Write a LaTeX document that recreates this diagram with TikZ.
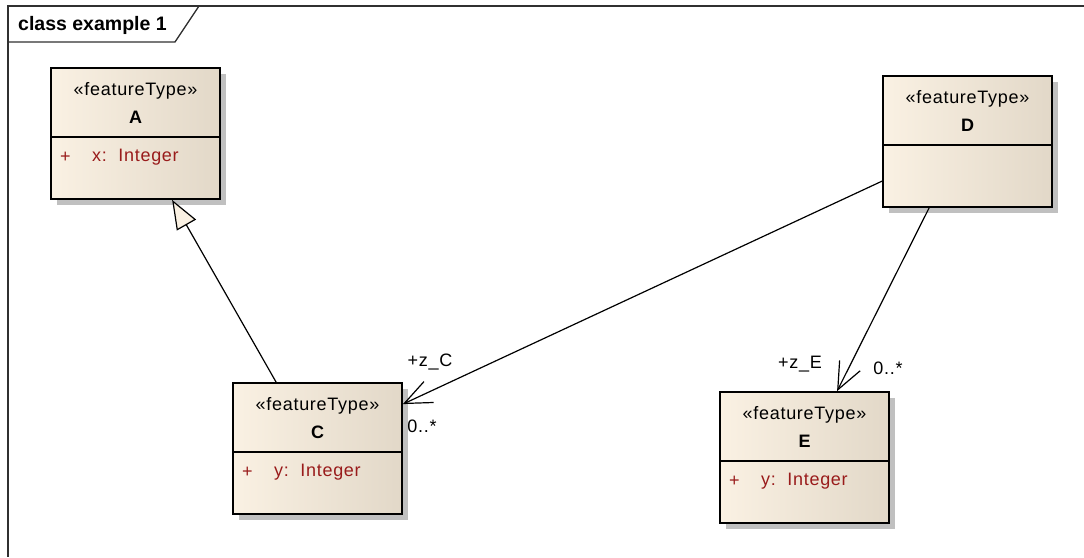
\documentclass[tikz,border=0pt]{standalone}
\usepackage{fontspec}
\setmainfont{Liberation Sans}[LetterSpace=4]
\newfontfamily\framefont{Liberation Sans}
\usetikzlibrary{arrows.meta,shadows}

\definecolor{eaCream}{HTML}{FAF1E3}
\definecolor{eaBeige}{HTML}{E2D8C8}
\definecolor{eaShadow}{HTML}{C0C0C0}
\definecolor{eaAttr}{HTML}{991B1B}
\definecolor{eaFrame}{HTML}{303030}

% class box: name, left, top, class name
\newcommand{\eaclass}[4]{%
  \node[classbox] (#1) at (#2+84.5,#3+65.5) {};
  \draw[classline] (#2,#3+69) -- (#2+169,#3+69);
  \node[stereo] (#1-st) at (#2+84.5,#3+23) {«featureType»};
  \node[cname]  (#1-nm) at (#2+84.5,#3+49) {#4};}
% one public attribute: name, left, top, text
\newcommand{\eaattr}[4]{%
  \node[attrtext] (#1-vis) at (#2+9,#3+89) {+};
  \node[attrtext] (#1-att) at (#2+41,#3+89) {#4};}

\begin{document}
\begin{tikzpicture}[
  x=1pt, y=-1pt,
  txt/.style={font=\fontsize{18}{21}\selectfont, inner sep=0pt},
  classbox/.style={rectangle, draw=black, line width=1.8pt,
    minimum width=169pt, minimum height=131pt, inner sep=0pt,
    left color=eaCream, middle color=eaCream, right color=eaBeige,
    drop shadow={shadow xshift=5.5pt, shadow yshift=-5.5pt, fill=eaShadow, opacity=1}},
  classline/.style={draw=black, line width=1.8pt},
  stereo/.style={txt},
  cname/.style={txt, font=\fontsize{18}{21}\selectfont\bfseries},
  attrtext/.style={txt, anchor=west, text=eaAttr},
  rolelab/.style={txt},
  frameline/.style={draw=eaFrame, line width=1.3pt},
  framelab/.style={anchor=west, inner sep=0pt,
    font=\framefont\fontsize{19.5}{22}\selectfont\bfseries},
  genline/.style={line width=1.2pt,
    -{Triangle[length=29pt, width=22pt, fill=eaCream, line width=1.2pt]}},
  assocline/.style={line width=1.2pt,
    -{Straight Barb[length=27pt, width=23pt, line width=1.2pt]}},
]
\useasboundingbox (0,0) rectangle (1084,557);

% ---- diagram frame -------------------------------------------------------
\draw[frameline] (1084,6) -- (8,6) -- (8,557);
\draw[frameline] (8,42) -- (175,42) -- (199,6);
\node[framelab] (frame-title) at (18,25) {class example 1};

% ---- classes -------------------------------------------------------------
\eaclass{A}{51}{68}{A}
\eaattr{A}{51}{68}{x:~~Integer}
\eaclass{D}{883}{76}{D}
\eaclass{C}{233}{383}{C}
\eaattr{C}{233}{383}{y:~~Integer}
\eaclass{E}{720}{392}{E}
\eaattr{E}{720}{392}{y:~~Integer}

% ---- relations -----------------------------------------------------------
\draw[genline] ([xshift=44pt]C.north west) -- ([xshift=122pt]A.south west);
\draw[assocline] ([yshift=-106pt]D.north west) -- ([yshift=-22pt]C.north east);
\draw[assocline] ([xshift=47pt]D.south west) -- ([xshift=118pt]E.north west);

% ---- association ends ----------------------------------------------------
\node[rolelab] (zC)   at (430,362) {+z\_C};
\node[rolelab] (mulC) at (422,426) {0..*};
\node[rolelab] (zE)   at (800,364) {+z\_E};
\node[rolelab] (mulE) at (888,368) {0..*};
\end{tikzpicture}
\end{document}
